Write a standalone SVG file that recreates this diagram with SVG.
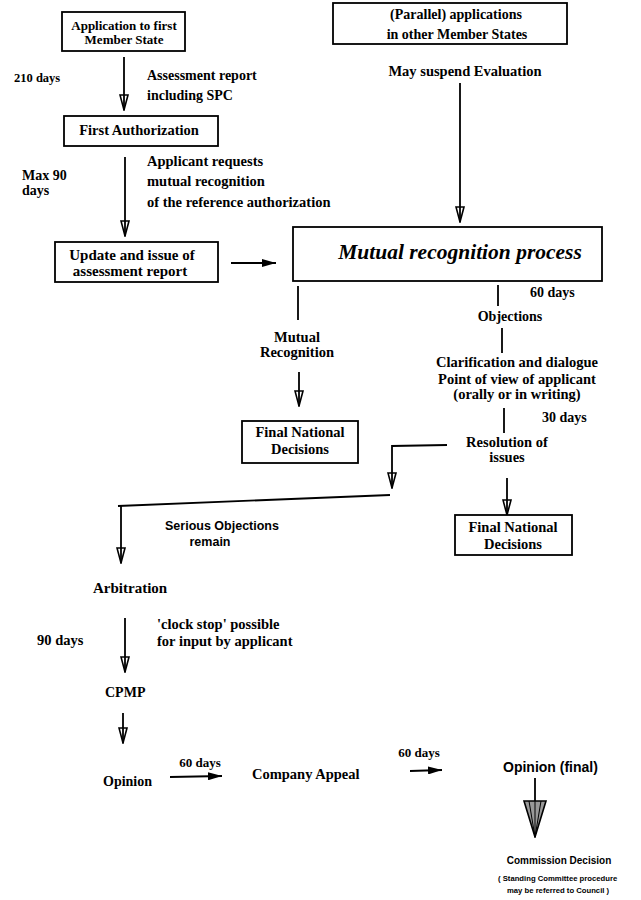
<svg xmlns="http://www.w3.org/2000/svg" width="641" height="900" viewBox="0 0 641 900">
<style>
.t{font-family:"Liberation Serif",serif;font-weight:bold;font-size:14px;fill:#000}
.c{text-anchor:middle}
.s{font-family:"Liberation Sans",sans-serif;font-weight:bold;fill:#000}
.box{fill:#fff;stroke:#000;stroke-width:1.8}
.ln{fill:none;stroke:#000;stroke-width:1.8}
</style>
<defs>
<marker id="vo" viewBox="0 0 17 10" refX="16" refY="5" markerWidth="17" markerHeight="10" markerUnits="userSpaceOnUse" orient="auto">
<path d="M1,1 L16,5 L1,9 Z" fill="none" stroke="#000" stroke-width="1.6"/>
</marker>
<marker id="fs" viewBox="0 0 14 8" refX="14" refY="4" markerWidth="14" markerHeight="8" markerUnits="userSpaceOnUse" orient="auto">
<path d="M0,0 L14,4 L0,8 Z" fill="#000"/>
</marker>
<marker id="big" viewBox="0 0 38 24" refX="37" refY="12" markerWidth="38" markerHeight="24" markerUnits="userSpaceOnUse" orient="auto">
<path d="M1,1 L37,12 L1,23 Z" fill="#999" stroke="#000" stroke-width="1.6"/>
<path d="M1,6 L37,12 M1,18 L37,12 M1,12 L37,12" stroke="#000" stroke-width="1"/>
</marker>
</defs>

<g id="connectors">
<line class="ln" x1="124" y1="57" x2="124" y2="110" marker-end="url(#vo)"/>
<line class="ln" x1="125" y1="157" x2="125" y2="236" marker-end="url(#vo)"/>
<line class="ln" x1="231" y1="263" x2="276" y2="263" marker-end="url(#fs)"/>
<line class="ln" x1="460" y1="83" x2="460" y2="222" marker-end="url(#vo)"/>
<line class="ln" x1="298" y1="286" x2="298" y2="320"/>
<line class="ln" x1="299" y1="372" x2="299" y2="406" marker-end="url(#vo)"/>
<line class="ln" x1="498" y1="285" x2="498" y2="306"/>
<line class="ln" x1="502" y1="328" x2="502" y2="353"/>
<line class="ln" x1="504" y1="408" x2="504" y2="433"/>
<polyline class="ln" points="447,445 392,446 392,488" marker-end="url(#vo)"/>
<line class="ln" x1="507" y1="478" x2="507" y2="515" marker-end="url(#vo)"/>
<line class="ln" x1="390" y1="495" x2="118" y2="506"/>
<line class="ln" x1="121" y1="506" x2="121" y2="563" marker-end="url(#vo)"/>
<line class="ln" x1="125" y1="618" x2="125" y2="672" marker-end="url(#vo)"/>
<line class="ln" x1="123" y1="713" x2="123" y2="743" marker-end="url(#vo)"/>
<line class="ln" x1="170" y1="777" x2="222" y2="776" marker-end="url(#fs)"/>
<line class="ln" x1="410" y1="771" x2="442" y2="770" marker-end="url(#fs)"/>
<line class="ln" x1="535" y1="778" x2="535" y2="837" marker-end="url(#big)"/>
</g>

<g id="app-first">
<rect class="box" x="62" y="12" width="123" height="39"/>
<text class="t c" x="124" y="30" style="font-size:13px">Application to first</text>
<text class="t c" x="124" y="44" style="font-size:13px">Member State</text>
</g>
<g id="lbl-210"><text class="t" x="14" y="82" style="font-size:12.5px">210 days</text></g>
<g id="lbl-assess">
<text class="t" x="147" y="80">Assessment report</text>
<text class="t" x="147" y="100">including SPC</text>
</g>
<g id="first-auth">
<rect class="box" x="64" y="116" width="154" height="30"/>
<text class="t c" x="139" y="135" style="font-size:14.5px">First Authorization</text>
</g>
<g id="lbl-max90">
<text class="t" x="22" y="180">Max 90</text>
<text class="t" x="22" y="195">days</text>
</g>
<g id="lbl-applicant">
<text class="t" x="147" y="166" style="font-size:14.5px">Applicant requests</text>
<text class="t" x="147" y="186" style="font-size:14.5px">mutual recognition</text>
<text class="t" x="147" y="207" style="font-size:14.5px">of the reference authorization</text>
</g>
<g id="update">
<rect class="box" x="55" y="242" width="163" height="40"/>
<text class="t c" x="132" y="260" style="font-size:15px">Update and issue of</text>
<text class="t c" x="130" y="276" style="font-size:15px">assessment report</text>
</g>
<g id="parallel">
<rect class="box" x="333" y="3" width="234" height="41"/>
<text class="t c" x="456" y="19">(Parallel) applications</text>
<text class="t c" x="457" y="39">in other Member States</text>
</g>
<g id="lbl-suspend"><text class="t c" x="465" y="76" style="font-size:14.5px">May suspend Evaluation</text></g>
<g id="mrp">
<rect class="box" x="293" y="227" width="309" height="54"/>
<text class="t c" x="460" y="259" style="font-size:21.5px;font-style:italic">Mutual recognition process</text>
</g>
<g id="lbl-mutual">
<text class="t c" x="297" y="342" style="font-size:14.5px">Mutual</text>
<text class="t c" x="297" y="357" style="font-size:14.5px">Recognition</text>
</g>
<g id="final-left">
<rect class="box" x="242" y="421" width="116" height="42"/>
<text class="t c" x="300" y="437" style="font-size:14.5px">Final National</text>
<text class="t c" x="300" y="454" style="font-size:14.5px">Decisions</text>
</g>
<g id="lbl-60a"><text class="t" x="530" y="297">60 days</text></g>
<g id="objections"><text class="t c" x="510" y="321">Objections</text></g>
<g id="clarification">
<text class="t c" x="517" y="367" style="font-size:14.5px">Clarification and dialogue</text>
<text class="t c" x="517" y="384" style="font-size:14.5px">Point of view of applicant</text>
<text class="t c" x="517" y="399" style="font-size:14.5px">(orally or in writing)</text>
</g>
<g id="lbl-30"><text class="t" x="542" y="422">30 days</text></g>
<g id="resolution">
<text class="t c" x="507" y="447" style="font-size:14.5px">Resolution of</text>
<text class="t c" x="507" y="462" style="font-size:14.5px">issues</text>
</g>
<g id="final-right">
<rect class="box" x="455" y="515" width="117" height="40"/>
<text class="t c" x="513" y="532" style="font-size:14.5px">Final National</text>
<text class="t c" x="513" y="549" style="font-size:14.5px">Decisions</text>
</g>
<g id="lbl-serious">
<text class="s c" x="222" y="530" style="font-size:12.5px">Serious Objections</text>
<text class="s c" x="210" y="546" style="font-size:12.5px">remain</text>
</g>
<g id="arbitration"><text class="t" x="93" y="593" style="font-size:15px">Arbitration</text></g>
<g id="lbl-90"><text class="t" x="37" y="645" style="font-size:14.5px">90 days</text></g>
<g id="lbl-clock">
<text class="t" x="157" y="629" style="font-size:14.5px">'clock stop' possible</text>
<text class="t" x="157" y="646" style="font-size:14.5px">for input by applicant</text>
</g>
<g id="cpmp"><text class="t" x="105" y="697">CPMP</text></g>
<g id="opinion"><text class="t" x="103" y="786">Opinion</text></g>
<g id="lbl-60b"><text class="t c" x="200" y="767" style="font-size:13px">60 days</text></g>
<g id="appeal"><text class="t" x="252" y="779" style="font-size:14.5px">Company Appeal</text></g>
<g id="lbl-60c"><text class="t c" x="419" y="757" style="font-size:13px">60 days</text></g>
<g id="opinion-final"><text class="s" x="503" y="772" style="font-size:14px">Opinion (final)</text></g>
<g id="commission">
<text class="s c" x="559" y="864" style="font-size:10px">Commission Decision</text>
<text class="s" x="498" y="881" style="font-size:7.7px">( Standing Committee procedure</text>
<text class="s" x="507" y="893" style="font-size:7.7px">may be referred to Council )</text>
</g>
</svg>
